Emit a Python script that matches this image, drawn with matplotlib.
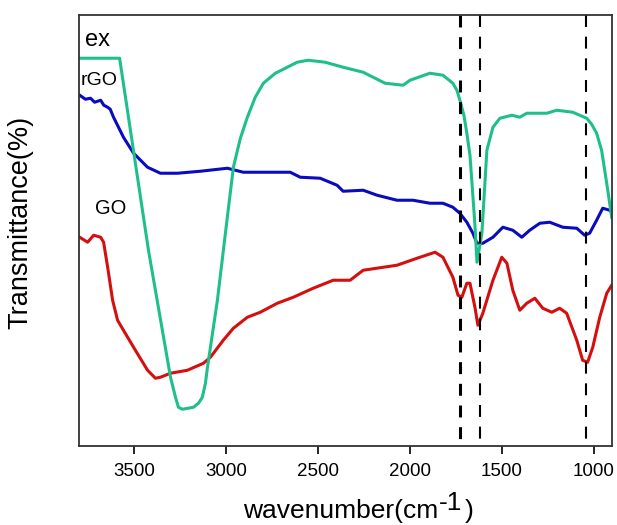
import matplotlib.pyplot as plt
import numpy as np

plt.rcParams['font.family'] = ['Liberation Sans', 'DejaVu Sans']

# GO (red)
go_wn = [3796, 3753, 3720, 3682, 3666, 3644, 3617, 3590, 3558, 3503, 3427, 3384, 3357, 3302,
         3210, 3123, 3085, 3015, 2960, 2884, 2814, 2721, 2634, 2526, 2417, 2325, 2254, 2070,
         1961, 1863, 1820, 1766, 1738, 1717, 1690, 1673, 1646, 1630, 1603, 1548, 1500, 1472,
         1440, 1402, 1364, 1320, 1277, 1228, 1185, 1147, 1092, 1060, 1033, 1005, 967, 929, 902]
go_t = [209, 204, 211, 209, 204, 179, 146, 126, 116, 99, 76, 68, 69, 73,
        76, 83, 89, 106, 118, 129, 134, 143, 149, 158, 166, 166, 176, 181,
        188, 194, 189, 169, 151, 149, 163, 163, 139, 121, 133, 166, 189, 183,
        156, 136, 143, 148, 138, 134, 138, 133, 106, 86, 84, 99, 129, 153, 161]

# rGO (blue)
rgo_wn = [3796, 3765, 3737, 3715, 3682, 3665, 3644, 3630, 3612, 3558, 3503, 3427, 3357, 3264,
          3139, 2993, 2906, 2776, 2651, 2596, 2488, 2396, 2363, 2254, 2178, 2070, 1983, 1891,
          1820, 1766, 1728, 1690, 1657, 1635, 1603, 1548, 1494, 1440, 1391, 1348, 1293, 1239,
          1168, 1092, 1049, 1022, 984, 951, 913, 902]
rgo_t = [351, 347, 348, 344, 346, 341, 339, 337, 329, 309, 293, 279, 273, 273,
         275, 278, 274, 274, 274, 269, 268, 261, 255, 256, 251, 246, 246, 243,
         243, 239, 233, 224, 213, 203, 203, 209, 219, 216, 209, 216, 223, 224,
         219, 218, 211, 213, 226, 238, 236, 234]

# ex (green)
ex_wn = [3797, 3579, 3422, 3302, 3275, 3259, 3237, 3177, 3150, 3129, 3112, 3101, 3047, 2993,
         2960, 2922, 2884, 2841, 2797, 2732, 2667, 2613, 2553, 2461, 2363, 2254, 2135, 2037,
         1999, 1891, 1820, 1766, 1744, 1728, 1706, 1690, 1673, 1662, 1646, 1635, 1619, 1608,
         1581, 1548, 1510, 1445, 1402, 1364, 1255, 1201, 1114, 1038, 1011, 984, 957, 929, 902]
ex_t = [388, 388, 196, 69, 49, 39, 37, 39, 43, 49, 63, 79, 146, 229,
        279, 308, 329, 349, 363, 373, 379, 384, 386, 384, 379, 374, 363, 361,
        366, 373, 371, 363, 356, 346, 331, 313, 291, 263, 221, 184, 201, 213,
        296, 319, 328, 331, 329, 333, 333, 336, 334, 328, 322, 313, 296, 263, 229]

# vertical reference lines
peaks = [1725, 1620, 1040]
peak_widths = [2.2, 1.5]

y_lo, y_hi = 0, 431

fig = plt.figure(figsize=(6.17, 5.25), dpi=100)
ax = fig.add_axes([0.128, 0.150, 0.864, 0.821])

ax.plot(go_wn, go_t, color='#d40f0f', lw=2.2)
ax.plot(rgo_wn, rgo_t, color='#0a0ac0', lw=2.2)
ax.plot(ex_wn, ex_t, color='#1fbf8c', lw=2.2)

# dashes start from the top of the frame
for i, p in enumerate(peaks):
    w = peak_widths[0] if i == 0 else peak_widths[1]
    ax.plot([p, p], [y_hi, y_lo], color='black', lw=w, dashes=(8.6 / w, 7.0 / w))

ax.set_xlim(3800, 900)
ax.set_ylim(y_lo, y_hi)
ax.set_xticks([3500, 3000, 2500, 2000, 1500, 1000])
ax.set_yticks([])
ax.tick_params(axis='x', direction='out', length=6, width=1.2, labelsize=13.5, pad=6)

for s in ax.spines.values():
    s.set_linewidth(1.3)
    s.set_color('#333333')

ax.text(0.011, 0.942, 'ex', transform=ax.transAxes, fontsize=17, va='center', ha='left')
ax.text(0.004, 0.849, 'rGO', transform=ax.transAxes, fontsize=14, va='center', ha='left')
ax.text(0.030, 0.551, 'GO', transform=ax.transAxes, fontsize=14.5, va='center', ha='left')

# x label with a full-size raised "-1"
t1 = fig.text(0.394, 0.013, 'wavenumber(cm', fontsize=19, ha='left', va='baseline')
t2 = ax.annotate('-1', xy=(1, 0), xycoords=t1, xytext=(0.5, 5.8), textcoords='offset points',
                 fontsize=19, ha='left', va='bottom', annotation_clip=False)
ax.annotate(')', xy=(1, 0), xycoords=t2, xytext=(1.5, -5.8), textcoords='offset points',
            fontsize=19, ha='left', va='bottom', annotation_clip=False)

ax.set_ylabel('Transmittance(%)', fontsize=19.5)
ax.yaxis.set_label_coords(-0.0863, 0.52)

fig.savefig('out.png', dpi=100)
